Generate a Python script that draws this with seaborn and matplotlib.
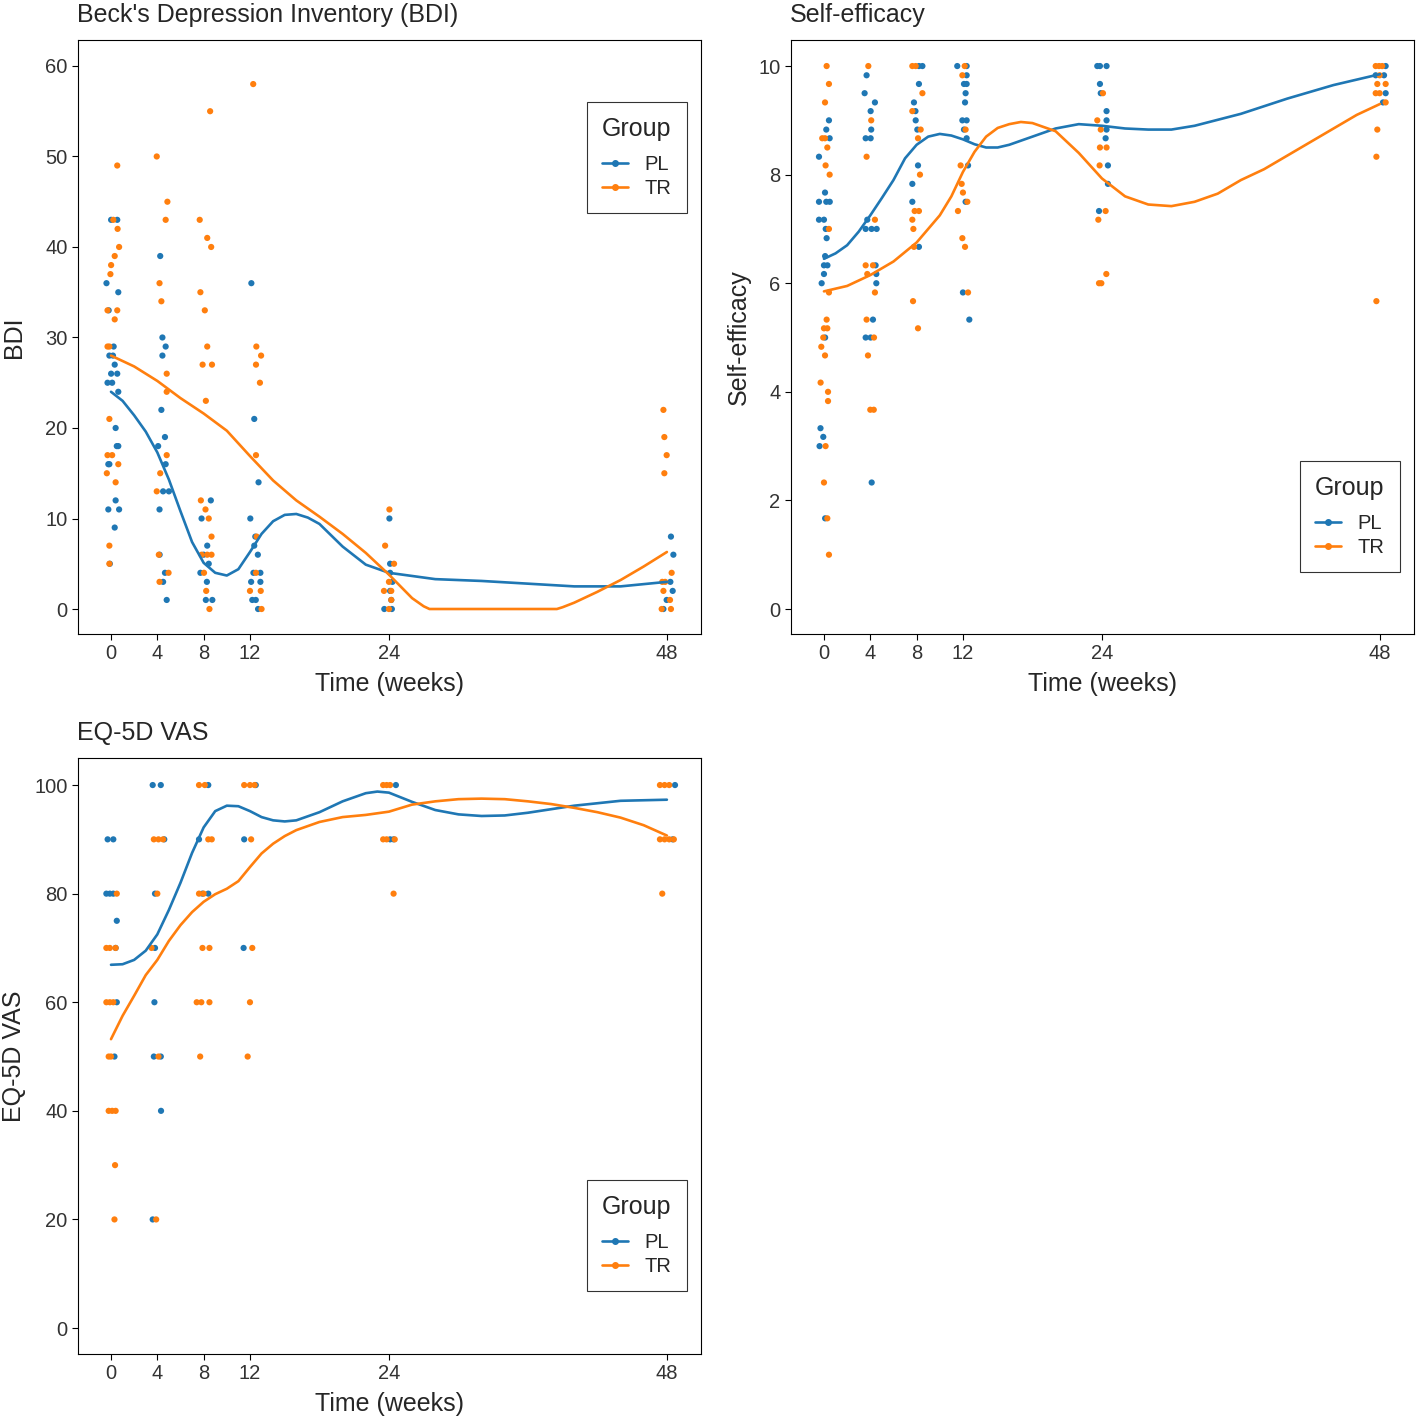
import pandas as pd
import seaborn as sns
import matplotlib.pyplot as plt
from matplotlib.lines import Line2D

sns.set_style('ticks')
plt.rcParams['font.family'] = ['Liberation Sans', 'DejaVu Sans']

palette = {'PL': '#1f77b4', 'TR': '#ff7f0e'}
time_ticks = [0, 4, 8, 12, 24, 48]

bdi_pl_week = [0.01, 0.54, -0.39, 0.63, -0.2, 0.23, -0.14, 0.17, 0.32, 0.01, 0.54, -0.3, 0.1, 0.63, 0.4, 0.5, 0.63, -0.23, -0.14, 0.4, -0.23, 0.7, 0.32, -0.1,
               4.25, 4.44, 4.72, 4.44, 4.35, 4.66, 4.07, 4.72, 4.5, 5.0, 4.19, 4.2, 4.66, 4.5, 4.81,
               7.82, 8.62, 8.31, 8.0, 8.44, 7.72, 8.28, 8.19, 8.75,
               12.12, 12.37, 12.74, 12.03, 12.46, 12.37, 12.68, 12.3, 12.9, 12.1, 12.9, 12.2, 12.5, 12.7,
               24.04, 24.1, 24.1, 24.3, 24.1, 24.2, 23.6, 24.25,
               48.35, 48.56, 48.3, 48.5, 47.98, 47.7]
bdi_pl_score = [43, 43, 36, 35, 33, 29, 28, 28, 27, 26, 26, 25, 25, 24, 20, 18, 18, 16, 16, 12, 11, 11, 9, 5,
                39, 30, 29, 28, 22, 19, 18, 16, 13, 13, 11, 6, 4, 3, 1,
                10, 12, 7, 6, 5, 4, 3, 1, 1,
                36, 21, 14, 10, 8, 7, 6, 4, 4, 3, 3, 1, 1, 0,
                10, 5, 4, 3, 2, 1, 0, 0,
                8, 6, 3, 2, 1, 0]
bdi_tr_week = [0.54, 0.2, 0.57, 0.7, 0.32, 0.01, -0.05, -0.3, 0.54, 0.32, -0.3, -0.14, -0.14, -0.3, 0.1, 0.63, -0.36, 0.4, -0.14, -0.14,
               3.95, 4.87, 4.72, 4.19, 4.35, 4.81, 4.81, 4.81, 4.25, 3.95, 4.13, 4.97, 4.19,
               8.56, 7.66, 8.31, 8.65, 7.72, 8.1, 8.31, 7.91, 8.72, 8.19, 7.76, 8.16, 8.44, 8.68, 7.82, 8.31, 8.68, 8.03, 8.22, 8.5,
               12.28, 12.55, 12.96, 12.52, 12.86, 12.52, 12.58, 12.52, 12.0, 12.93, 13.0,
               24.04, 23.67, 24.44, 24.0, 23.57, 24.2, 24.2, 24.0,
               47.7, 47.78, 47.98, 47.78, 48.41, 47.6, 47.85, 47.7, 48.27, 47.55, 48.35]
bdi_tr_score = [49, 43, 42, 40, 39, 38, 37, 33, 33, 32, 29, 29, 21, 17, 17, 16, 15, 14, 7, 5,
                50, 45, 43, 36, 34, 26, 24, 17, 15, 13, 6, 4, 3,
                55, 43, 41, 40, 35, 33, 29, 27, 27, 23, 12, 11, 10, 8, 6, 6, 6, 4, 2, 0,
                58, 29, 28, 27, 25, 17, 8, 4, 2, 2, 0,
                11, 7, 5, 3, 2, 2, 1, 0,
                22, 19, 17, 15, 4, 3, 3, 2, 1, 0, 0]

# BDI fitted curves
bdi_pl_fit_week = [0, 1, 2, 3, 4, 5, 6, 7, 8, 9, 10, 11, 12, 13, 14, 15, 16, 17, 18, 20, 22, 24, 28, 32, 36, 40, 44, 48]
bdi_pl_fit = [24, 23.0, 21.4, 19.6, 17.3, 14.3, 10.8, 7.4, 5.1, 4.0, 3.7, 4.4, 6.3, 8.3, 9.7, 10.4, 10.5, 10.1, 9.4, 6.9, 4.9, 4.0, 3.3, 3.1, 2.8, 2.5, 2.5, 3.0]
bdi_tr_fit_week = [0, 2, 4, 6, 8, 10, 12, 14, 16, 18, 20, 22, 24, 25, 26, 27, 27.5, 38.5, 39, 40, 42, 44, 46, 48]
bdi_tr_fit = [28, 26.8, 25.2, 23.3, 21.6, 19.7, 16.9, 14.2, 12.0, 10.2, 8.3, 6.2, 3.8, 2.5, 1.2, 0.3, 0, 0, 0.2, 0.7, 1.9, 3.2, 4.7, 6.3]

# Self-efficacy observations
se_pl_week = [0.43, 0.2, 0.49, -0.43, 0.09, -0.43, 0.2, 0.5, -0.43, 0.0, 0.15, 0.23, 0.1, 0.0, 0.3, 0.0, -0.2, 0.1, -0.3, -0.06, -0.38, 0.1,
              3.68, 3.51, 4.4, 4.03, 4.08, 3.6, 4.03, 3.74, 3.6, 4.11, 4.55, 4.46, 4.52, 4.52, 4.23, 3.6, 4.03, 4.12,
              8.2, 8.5, 8.2, 7.77, 7.9, 7.92, 8.06, 8.12, 7.63, 7.63, 8.2,
              11.51, 12.32, 12.32, 12.09, 12.32, 12.23, 12.18, 11.95, 12.32, 12.09, 12.32, 12.44, 12.23, 12.0, 12.55,
              23.6, 23.83, 24.4, 23.83, 23.9, 24.4, 24.4, 24.4, 24.32, 24.52, 24.52, 23.75,
              48.5, 47.64, 48.36, 48.5, 48.27]
se_pl_score = [9.0, 8.83, 8.67, 8.33, 7.67, 7.5, 7.5, 7.5, 7.17, 7.17, 7.0, 6.83, 6.5, 6.33, 6.33, 6.17, 6.0, 5.0, 3.33, 3.17, 3.0, 1.67,
               9.83, 9.5, 9.33, 9.17, 8.83, 8.67, 8.67, 7.17, 7.0, 7.0, 7.0, 6.33, 6.17, 6.0, 5.33, 5.0, 5.0, 2.33,
               10, 10, 9.67, 9.33, 9.17, 9.0, 8.83, 8.17, 7.83, 7.5, 6.67,
               10, 10, 9.83, 9.67, 9.67, 9.5, 9.33, 9.0, 9.0, 8.83, 8.67, 8.17, 7.5, 5.83, 5.33,
               10, 10, 10, 9.67, 9.5, 9.17, 9.0, 8.83, 8.67, 8.17, 7.83, 7.33,
               10, 9.83, 9.83, 9.5, 9.33]
se_tr_week = [0.23, 0.43, 0.09, -0.15, 0.09, 0.29, 0.14, 0.49, 0.43, 0.43, 0.23, 0.0, 0.29, -0.06, -0.23, 0.09, -0.29, 0.35, 0.35, 0.14, 0.0, 0.29, 0.43,
              3.83, 4.08, 3.68, 4.4, 3.6, 4.23, 3.74, 4.4, 3.68, 4.32, 3.8, 4.0, 4.3,
              7.63, 7.92, 8.5, 7.63, 8.35, 8.12, 8.29, 7.83, 8.2, 7.63, 7.72, 7.77, 7.69, 8.12,
              12.15, 11.95, 12.23, 11.8, 11.89, 12.0, 12.38, 11.57, 11.95, 12.18, 12.44,
              24.09, 23.6, 23.9, 23.83, 24.4, 23.8, 24.32, 23.69, 24.38, 23.75, 23.95,
              47.64, 47.93, 48.2, 47.98, 47.78, 48.5, 47.64, 47.98, 48.5, 47.78, 47.7, 47.7]
se_tr_score = [10, 9.67, 9.33, 8.67, 8.67, 8.5, 8.17, 8.0, 7.0, 5.83, 5.33, 5.17, 5.17, 5.0, 4.83, 4.67, 4.17, 4.0, 3.83, 3.0, 2.33, 1.67, 1.0,
               10, 9.0, 8.33, 7.17, 6.33, 6.33, 6.17, 5.83, 5.33, 5.0, 4.67, 3.67, 3.67,
               10, 10, 9.5, 9.17, 8.83, 8.67, 8.0, 7.33, 7.33, 7.17, 7.0, 6.67, 5.67, 5.17,
               10, 9.83, 8.83, 8.17, 7.83, 7.67, 7.5, 7.33, 6.83, 6.67, 5.83,
               9.5, 9.0, 8.83, 8.5, 8.5, 8.17, 7.33, 7.17, 6.17, 6.0, 6.0,
               10, 10, 10, 9.83, 9.67, 9.67, 9.5, 9.5, 9.33, 8.83, 8.33, 5.67]

se_pl_fit_week = [0, 1, 2, 3, 4, 5, 6, 7, 8, 9, 10, 11, 12, 13, 14, 15, 16, 18, 20, 22, 24, 26, 28, 30, 32, 36, 40, 44, 48]
se_pl_fit = [6.45, 6.55, 6.7, 6.95, 7.25, 7.57, 7.9, 8.3, 8.55, 8.7, 8.75, 8.72, 8.65, 8.56, 8.5, 8.5, 8.55, 8.7, 8.85, 8.93, 8.9, 8.85, 8.83, 8.83, 8.9, 9.12, 9.4, 9.65, 9.85]
se_tr_fit_week = [0, 2, 4, 6, 8, 10, 11, 12, 13, 14, 15, 16, 17, 18, 20, 22, 24, 26, 28, 30, 32, 34, 36, 38, 40, 42, 44, 46, 48]
se_tr_fit = [5.85, 5.95, 6.15, 6.4, 6.75, 7.25, 7.6, 8.05, 8.42, 8.7, 8.86, 8.93, 8.97, 8.95, 8.8, 8.4, 7.93, 7.6, 7.45, 7.42, 7.5, 7.65, 7.9, 8.1, 8.35, 8.6, 8.85, 9.1, 9.3]

# EQ-5D VAS observations
eq_pl_week = [-0.29, 0.2, -0.4, -0.1, 0.2, 0.5, 0.4, 0.5, 0.3,
              3.6, 4.3, 4.6, 3.8, 3.8, 3.75, 3.7, 4.3, 4.32, 3.6,
              8.4, 7.6, 8.4, 7.9,
              12.5, 11.5, 11.45,
              24.6, 24.1, 24.4,
              48.7, 48.5]
eq_pl_score = [90, 90, 80, 80, 80, 75, 70, 60, 50,
               100, 100, 90, 80, 70, 60, 50, 50, 40, 20,
               100, 90, 80, 80,
               100, 90, 70,
               100, 90, 90,
               100, 90]
eq_tr_week = [0.5, -0.4, -0.1, 0.4, -0.4, -0.1, 0.2, -0.2, 0.0, -0.2, 0.1, 0.4, 0.35, 0.3,
              3.7, 4.1, 4.5, 4.0, 3.5, 4.1, 3.9,
              7.6, 8.1, 8.4, 8.7, 7.6, 8.0, 7.9, 8.5, 7.4, 7.8, 8.5, 7.7,
              11.5, 12.0, 12.4, 12.1, 12.2, 12.0, 11.8,
              23.5, 23.8, 24.1, 23.5, 23.8, 24.5, 24.4,
              47.4, 47.8, 48.2, 47.4, 47.8, 48.2, 48.6, 47.6]
eq_tr_score = [80, 70, 70, 70, 60, 60, 60, 50, 50, 40, 40, 40, 30, 20,
               90, 90, 90, 80, 70, 50, 20,
               100, 100, 90, 90, 80, 80, 70, 70, 60, 60, 60, 50,
               100, 100, 100, 90, 70, 60, 50,
               100, 100, 100, 90, 90, 90, 80,
               100, 100, 100, 90, 90, 90, 90, 80]

eq_pl_fit_week = [0, 1, 2, 3, 4, 5, 6, 7, 8, 9, 10, 11, 12, 13, 14, 15, 16, 18, 20, 22, 23, 24, 26, 28, 30, 32, 34, 36, 40, 44, 48]
eq_pl_fit = [66.9, 67.0, 67.8, 69.5, 72.5, 77, 82, 87.5, 92.2, 95.2, 96.2, 96.1, 95.2, 94.1, 93.5, 93.3, 93.5, 95, 97, 98.5, 98.8, 98.6, 96.9, 95.4, 94.6, 94.3, 94.4, 94.9, 96.2, 97.1, 97.3]
eq_tr_fit_week = [0, 1, 2, 3, 4, 5, 6, 7, 8, 9, 10, 11, 12, 13, 14, 15, 16, 18, 20, 22, 24, 26, 28, 30, 32, 34, 36, 38, 40, 42, 44, 46, 48]
eq_tr_fit = [53.2, 57.5, 61.2, 65, 67.8, 71.3, 74.2, 76.6, 78.5, 79.9, 80.9, 82.3, 84.9, 87.4, 89.2, 90.6, 91.7, 93.2, 94.1, 94.5, 95.1, 96.4, 97.0, 97.4, 97.5, 97.4, 97.0, 96.5, 95.8, 95.0, 94.0, 92.6, 90.7]


def frame(pl_x, pl_y, tr_x, tr_y):
  return pd.DataFrame({'week': pl_x + tr_x, 'value': pl_y + tr_y,
                       'Group': ['PL'] * len(pl_x) + ['TR'] * len(tr_x)})


def panel(ax, points, fits, title, ylabel, ylim, yticks, legend_anchor, ylabel_x):
  sns.scatterplot(data=points, x='week', y='value', hue='Group', palette=palette,
                  s=20, linewidth=0, legend=False, ax=ax, zorder=2)
  sns.lineplot(data=fits, x='week', y='value', hue='Group', palette=palette,
               linewidth=1.9, sort=False, estimator=None, legend=False, ax=ax, zorder=3)
  ax.set_xlim(-2.85, 50.95)
  ax.set_ylim(*ylim)
  ax.set_xticks(time_ticks)
  ax.set_yticks(yticks)
  ax.set_xlabel('Time (weeks)', fontsize=18, labelpad=6)
  ax.set_ylabel(ylabel, fontsize=18)
  ax.yaxis.set_label_coords(ylabel_x, 0.5)
  ax.set_title(title, loc='left', fontsize=18, pad=13, x=-0.002)
  ax.tick_params(labelsize=14.5, length=4, width=0.8, color='black', labelcolor='#333333')
  for sp in ax.spines.values():
    sp.set_visible(True)
    sp.set_linewidth(0.8)
    sp.set_color('black')
  handles = [Line2D([], [], color=palette[g], marker='o', markersize=4, linewidth=1.9) for g in palette]
  leg = ax.legend(handles, list(palette), title='Group', loc='upper right', bbox_to_anchor=legend_anchor,
                  borderaxespad=0, fontsize=14.5, title_fontsize=18, frameon=True, fancybox=False,
                  numpoints=1, handlelength=1.3, borderpad=0.75, labelspacing=0.25, handletextpad=0.8)
  leg._legend_box.sep = 10
  leg.get_frame().set_edgecolor('black')
  leg.get_frame().set_linewidth(0.8)


fig = plt.figure(figsize=(14.18, 14.18), dpi=100)
ax1 = fig.add_axes([0.055, 0.5529, 0.4394, 0.4189])
ax2 = fig.add_axes([0.5578, 0.5529, 0.4394, 0.4189])
ax3 = fig.add_axes([0.055, 0.0451, 0.4394, 0.4203])

panel(ax1, frame(bdi_pl_week, bdi_pl_score, bdi_tr_week, bdi_tr_score),
      frame(bdi_pl_fit_week, bdi_pl_fit, bdi_tr_fit_week, bdi_tr_fit),
      "Beck's Depression Inventory (BDI)", 'BDI', (-2.76, 62.87), [0, 10, 20, 30, 40, 50, 60], (0.977, 0.896), -0.0835)
panel(ax2, frame(se_pl_week, se_pl_score, se_tr_week, se_tr_score),
      frame(se_pl_fit_week, se_pl_fit, se_tr_fit_week, se_tr_fit),
      'Self-efficacy', 'Self-efficacy', (-0.46, 10.48), [0, 2, 4, 6, 8, 10], (0.977, 0.291), -0.064)
panel(ax3, frame(eq_pl_week, eq_pl_score, eq_tr_week, eq_tr_score),
      frame(eq_pl_fit_week, eq_pl_fit, eq_tr_fit_week, eq_tr_fit),
      'EQ-5D VAS', 'EQ-5D VAS', (-4.79, 104.97), [0, 20, 40, 60, 80, 100], (0.977, 0.292), -0.0835)

fig.savefig('out.png', dpi=100, facecolor='white')
